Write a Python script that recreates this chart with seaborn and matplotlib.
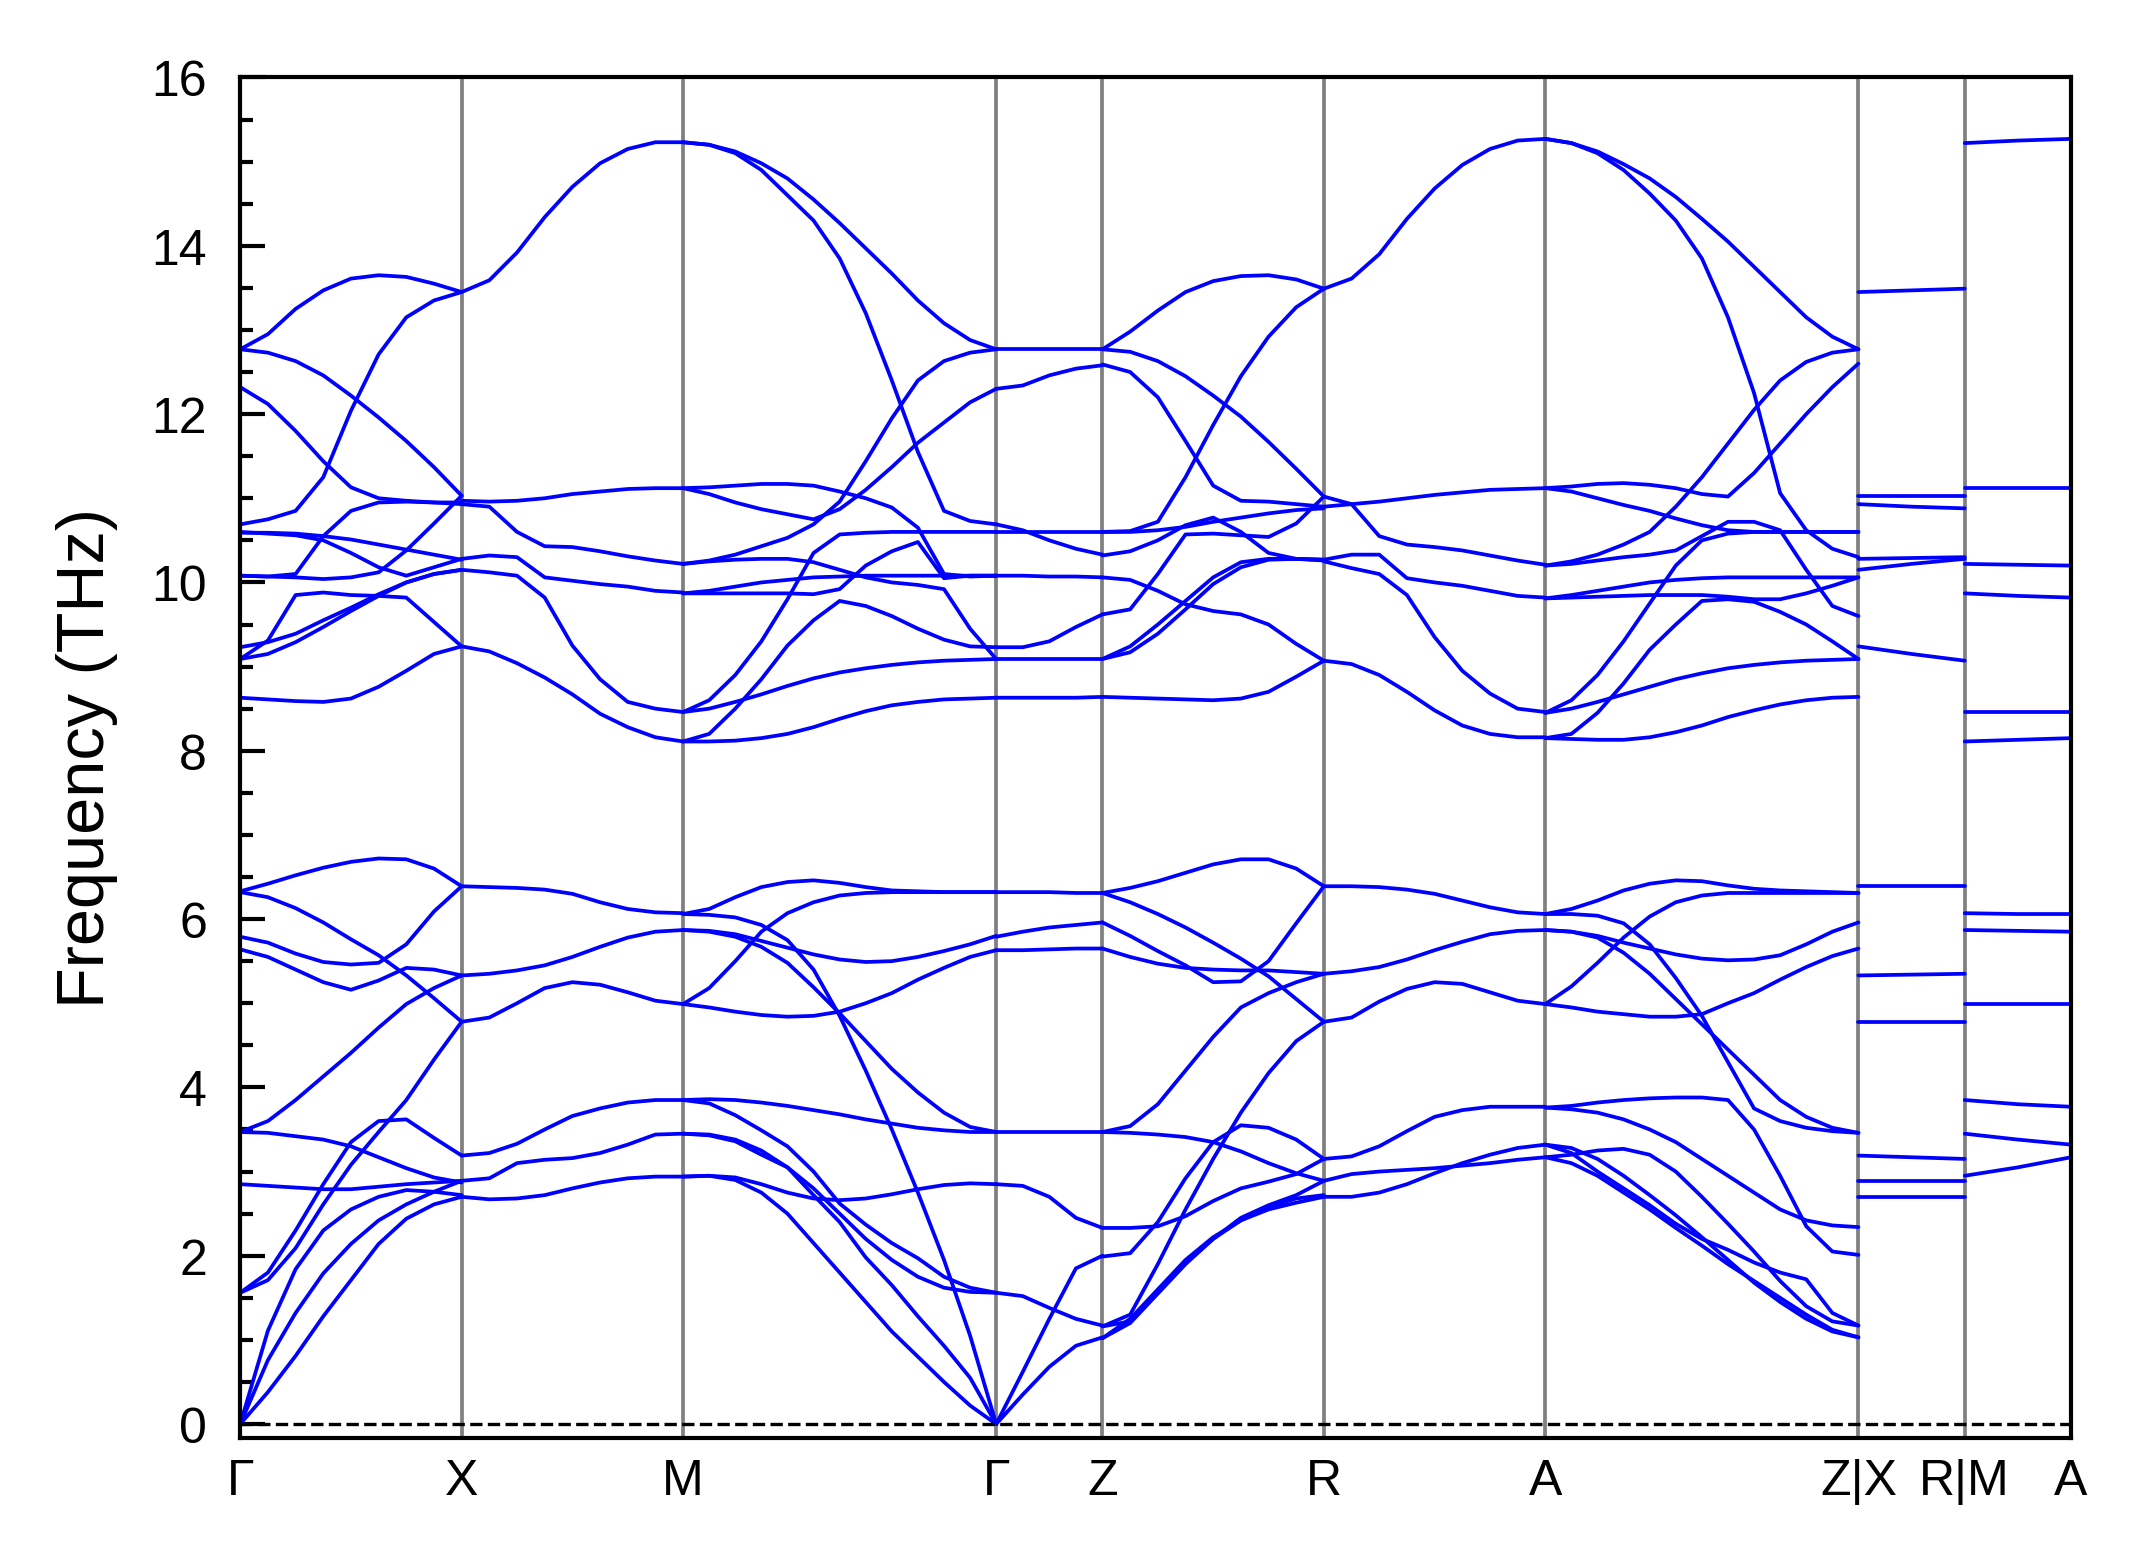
import matplotlib
matplotlib.use("Agg")
import matplotlib.pyplot as plt
import numpy as np
import pandas as pd
import seaborn as sns

sns.set_style("ticks")
plt.rcParams["font.family"] = ["Liberation Sans", "DejaVu Sans"]
for key in ["text.color", "axes.labelcolor", "xtick.color", "ytick.color", "axes.edgecolor"]:
    plt.rcParams[key] = "black"

# high-symmetry points and their path distances
labels = ["Γ", "X", "M", "Γ", "Z", "R", "A", "Z|X", "R|M", "A"]
ticks = [0.0, 0.5, 1.0, 1.707, 1.947, 2.447, 2.947, 3.654, 3.894, 4.134]

# branch frequencies (THz) read at evenly spaced k-points along each segment
seg_GX = [
    [12.77, 12.95, 13.25, 13.47, 13.61, 13.65, 13.63, 13.55, 13.45],
    [12.77, 12.73, 12.63, 12.46, 12.22, 11.96, 11.68, 11.37, 11.03],
    [12.32, 12.12, 11.80, 11.44, 11.13, 11.00, 10.97, 10.95, 10.95],
    [10.69, 10.75, 10.85, 11.25, 12.04, 12.71, 13.15, 13.35, 13.45],
    [10.59, 10.59, 10.58, 10.55, 10.51, 10.45, 10.39, 10.33, 10.27],
    [10.08, 10.07, 10.10, 10.55, 10.85, 10.95, 10.96, 10.95, 10.93],
    [10.08, 10.07, 10.06, 10.04, 10.06, 10.12, 10.38, 10.70, 11.03],
    [10.60, 10.58, 10.56, 10.50, 10.35, 10.18, 10.08, 10.18, 10.28],
    [9.23, 9.29, 9.39, 9.55, 9.70, 9.86, 10.00, 10.10, 10.15],
    [9.09, 9.15, 9.29, 9.47, 9.66, 9.84, 10.00, 10.10, 10.15],
    [9.09, 9.31, 9.85, 9.88, 9.85, 9.84, 9.82, 9.53, 9.24],
    [8.63, 8.61, 8.59, 8.58, 8.62, 8.76, 8.95, 9.15, 9.24],
    [6.33, 6.42, 6.52, 6.61, 6.68, 6.72, 6.71, 6.60, 6.39],
    [6.32, 6.26, 6.13, 5.96, 5.76, 5.57, 5.33, 5.06, 4.78],
    [5.79, 5.72, 5.59, 5.49, 5.46, 5.48, 5.70, 6.09, 6.39],
    [5.64, 5.55, 5.40, 5.25, 5.16, 5.27, 5.42, 5.40, 5.33],
    [3.47, 3.60, 3.85, 4.13, 4.41, 4.71, 4.99, 5.18, 5.33],
    [3.47, 3.46, 3.42, 3.38, 3.30, 3.17, 3.04, 2.93, 2.87],
    [1.56, 1.80, 2.30, 2.85, 3.35, 3.60, 3.62, 3.40, 3.19],
    [1.56, 1.71, 2.09, 2.61, 3.08, 3.47, 3.85, 4.33, 4.78],
    [2.85, 2.83, 2.81, 2.79, 2.79, 2.82, 2.85, 2.87, 2.89],
    [0.00, 0.38, 0.81, 1.28, 1.71, 2.14, 2.44, 2.61, 2.70],
    [0.00, 0.76, 1.32, 1.79, 2.14, 2.42, 2.61, 2.76, 2.89],
    [0.00, 1.11, 1.84, 2.30, 2.55, 2.70, 2.78, 2.76, 2.72],
]
seg_XM = [
    [13.45, 13.59, 13.92, 14.34, 14.70, 14.98, 15.15, 15.23, 15.23],
    [10.97, 10.96, 10.97, 11.00, 11.05, 11.08, 11.11, 11.12, 11.12],
    [10.93, 10.90, 10.60, 10.43, 10.42, 10.37, 10.31, 10.26, 10.22],
    [10.28, 10.32, 10.30, 10.06, 10.02, 9.98, 9.95, 9.90, 9.88],
    [10.15, 10.12, 10.08, 9.82, 9.25, 8.85, 8.58, 8.50, 8.46],
    [9.24, 9.18, 9.04, 8.87, 8.67, 8.44, 8.28, 8.16, 8.11],
    [6.39, 6.38, 6.37, 6.35, 6.30, 6.20, 6.12, 6.08, 6.07],
    [5.33, 5.35, 5.39, 5.45, 5.55, 5.67, 5.78, 5.85, 5.87],
    [4.78, 4.83, 5.00, 5.18, 5.25, 5.22, 5.13, 5.03, 4.99],
    [3.19, 3.22, 3.33, 3.50, 3.66, 3.75, 3.82, 3.85, 3.85],
    [2.89, 2.92, 3.10, 3.14, 3.16, 3.22, 3.32, 3.44, 3.45],
    [2.70, 2.67, 2.68, 2.72, 2.80, 2.87, 2.92, 2.94, 2.94],
]
seg_MG = [
    [15.23, 15.20, 15.10, 14.90, 14.60, 14.30, 13.85, 13.20, 12.40, 11.55, 10.85, 10.73, 10.69],
    [15.23, 15.20, 15.12, 14.98, 14.80, 14.55, 14.27, 13.97, 13.67, 13.35, 13.08, 12.88, 12.77],
    [10.22, 10.26, 10.33, 10.43, 10.53, 10.69, 10.96, 11.44, 11.95, 12.40, 12.63, 12.73, 12.77],
    [11.12, 11.05, 10.95, 10.87, 10.81, 10.75, 10.87, 11.10, 11.37, 11.66, 11.90, 12.14, 12.30],
    [11.12, 11.13, 11.15, 11.17, 11.17, 11.15, 11.08, 11.00, 10.89, 10.65, 10.10, 10.07, 10.08],
    [9.87, 9.87, 9.87, 9.87, 9.87, 9.86, 9.92, 10.20, 10.37, 10.48, 10.05, 10.08, 10.08],
    [9.87, 9.90, 9.95, 10.00, 10.03, 10.06, 10.07, 10.08, 10.08, 10.08, 10.08, 10.08, 10.08],
    [8.46, 8.60, 8.90, 9.30, 9.80, 10.35, 10.57, 10.59, 10.60, 10.60, 10.60, 10.60, 10.60],
    [8.11, 8.20, 8.50, 8.85, 9.25, 9.55, 9.78, 9.72, 9.60, 9.45, 9.32, 9.24, 9.23],
    [8.46, 8.50, 8.58, 8.67, 8.77, 8.86, 8.93, 8.98, 9.02, 9.05, 9.07, 9.08, 9.09],
    [8.11, 8.11, 8.12, 8.15, 8.20, 8.28, 8.38, 8.47, 8.54, 8.58, 8.61, 8.62, 8.63],
    [10.22, 10.25, 10.27, 10.28, 10.28, 10.24, 10.15, 10.06, 10.00, 9.97, 9.92, 9.45, 9.09],
    [6.06, 6.12, 6.26, 6.38, 6.44, 6.46, 6.43, 6.38, 6.34, 6.33, 6.32, 6.32, 6.32],
    [4.99, 5.18, 5.50, 5.85, 6.07, 6.20, 6.28, 6.31, 6.32, 6.32, 6.32, 6.32, 6.32],
    [5.87, 5.86, 5.82, 5.74, 5.66, 5.58, 5.52, 5.49, 5.50, 5.55, 5.62, 5.70, 5.80],
    [4.99, 4.95, 4.90, 4.86, 4.84, 4.85, 4.90, 5.00, 5.12, 5.28, 5.42, 5.55, 5.63],
    [6.06, 6.05, 6.02, 5.93, 5.75, 5.40, 4.85, 4.20, 3.50, 2.75, 1.95, 1.05, 0.00],
    [5.87, 5.85, 5.79, 5.67, 5.48, 5.19, 4.88, 4.55, 4.22, 3.94, 3.70, 3.53, 3.47],
    [3.85, 3.86, 3.85, 3.82, 3.78, 3.73, 3.68, 3.62, 3.57, 3.52, 3.49, 3.47, 3.47],
    [3.85, 3.81, 3.67, 3.49, 3.30, 3.00, 2.62, 2.37, 2.15, 1.97, 1.75, 1.62, 1.56],
    [3.45, 3.44, 3.38, 3.25, 3.05, 2.80, 2.50, 2.20, 1.95, 1.75, 1.62, 1.57, 1.56],
    [3.45, 3.43, 3.36, 3.20, 3.05, 2.72, 2.40, 1.98, 1.65, 1.28, 0.93, 0.55, 0.00],
    [2.94, 2.95, 2.90, 2.75, 2.50, 2.15, 1.80, 1.45, 1.10, 0.80, 0.50, 0.22, 0.00],
    [2.94, 2.95, 2.93, 2.85, 2.75, 2.68, 2.66, 2.68, 2.73, 2.79, 2.84, 2.86, 2.85],
]
seg_GZ = [
    [12.77, 12.77, 12.77, 12.77, 12.77],
    [12.30, 12.34, 12.46, 12.54, 12.58],
    [10.69, 10.62, 10.50, 10.40, 10.33],
    [10.60, 10.60, 10.60, 10.60, 10.60],
    [10.08, 10.08, 10.07, 10.07, 10.06],
    [9.23, 9.23, 9.30, 9.47, 9.62],
    [9.09, 9.09, 9.09, 9.09, 9.09],
    [8.63, 8.63, 8.63, 8.63, 8.64],
    [6.32, 6.32, 6.32, 6.31, 6.31],
    [5.79, 5.85, 5.90, 5.93, 5.96],
    [5.63, 5.63, 5.64, 5.65, 5.65],
    [3.47, 3.47, 3.47, 3.47, 3.47],
    [2.85, 2.83, 2.70, 2.45, 2.33],
    [1.56, 1.52, 1.38, 1.25, 1.17],
    [0.00, 0.62, 1.25, 1.85, 2.00],
    [0.00, 0.35, 0.68, 0.93, 1.03],
]
seg_ZR = [
    [12.77, 12.98, 13.23, 13.45, 13.58, 13.64, 13.65, 13.60, 13.49],
    [12.77, 12.74, 12.63, 12.45, 12.22, 11.97, 11.67, 11.35, 11.02],
    [12.59, 12.50, 12.20, 11.68, 11.15, 10.97, 10.96, 10.93, 10.90],
    [10.60, 10.61, 10.72, 11.25, 11.87, 12.45, 12.92, 13.27, 13.49],
    [10.60, 10.60, 10.62, 10.66, 10.72, 10.77, 10.82, 10.86, 10.88],
    [10.32, 10.37, 10.50, 10.68, 10.77, 10.60, 10.35, 10.28, 10.27],
    [9.62, 9.68, 10.10, 10.57, 10.58, 10.56, 10.54, 10.70, 11.02],
    [9.09, 9.24, 9.50, 9.78, 10.06, 10.24, 10.28, 10.28, 10.27],
    [9.09, 9.17, 9.39, 9.68, 9.98, 10.18, 10.27, 10.28, 10.26],
    [10.06, 10.03, 9.90, 9.74, 9.66, 9.62, 9.50, 9.27, 9.07],
    [8.64, 8.63, 8.62, 8.61, 8.60, 8.62, 8.70, 8.88, 9.07],
    [6.31, 6.37, 6.45, 6.55, 6.65, 6.71, 6.71, 6.60, 6.39],
    [6.31, 6.20, 6.06, 5.90, 5.72, 5.53, 5.32, 5.05, 4.78],
    [5.96, 5.80, 5.62, 5.45, 5.25, 5.26, 5.50, 5.95, 6.39],
    [5.65, 5.55, 5.47, 5.42, 5.40, 5.39, 5.39, 5.37, 5.35],
    [3.47, 3.54, 3.80, 4.20, 4.60, 4.95, 5.12, 5.25, 5.35],
    [3.47, 3.46, 3.44, 3.41, 3.35, 3.24, 3.10, 2.98, 2.89],
    [2.33, 2.33, 2.35, 2.47, 2.65, 2.80, 2.88, 2.97, 3.15],
    [1.99, 2.03, 2.40, 2.92, 3.35, 3.55, 3.52, 3.38, 3.15],
    [1.16, 1.30, 1.90, 2.55, 3.15, 3.70, 4.17, 4.55, 4.78],
    [1.02, 1.20, 1.55, 1.90, 2.20, 2.45, 2.60, 2.72, 2.89],
    [1.02, 1.25, 1.60, 1.95, 2.22, 2.42, 2.55, 2.63, 2.70],
    [1.16, 1.22, 1.58, 1.92, 2.20, 2.42, 2.58, 2.68, 2.72],
]
seg_RA = [
    [13.49, 13.61, 13.90, 14.32, 14.68, 14.96, 15.15, 15.25, 15.27],
    [10.90, 10.93, 10.96, 11.00, 11.04, 11.07, 11.10, 11.11, 11.12],
    [11.02, 10.93, 10.55, 10.45, 10.42, 10.38, 10.32, 10.26, 10.21],
    [10.27, 10.33, 10.33, 10.05, 10.00, 9.96, 9.90, 9.84, 9.82],
    [10.25, 10.17, 10.10, 9.85, 9.35, 8.95, 8.68, 8.50, 8.46],
    [9.07, 9.03, 8.90, 8.70, 8.48, 8.30, 8.20, 8.16, 8.16],
    [6.39, 6.39, 6.38, 6.35, 6.30, 6.22, 6.14, 6.08, 6.06],
    [5.35, 5.38, 5.43, 5.52, 5.63, 5.73, 5.82, 5.86, 5.87],
    [4.78, 4.83, 5.02, 5.17, 5.25, 5.23, 5.13, 5.03, 4.99],
    [3.15, 3.18, 3.30, 3.48, 3.65, 3.73, 3.77, 3.77, 3.77],
    [2.89, 2.97, 3.00, 3.02, 3.04, 3.07, 3.10, 3.14, 3.17],
    [2.70, 2.70, 2.75, 2.85, 2.98, 3.10, 3.20, 3.28, 3.32],
]
seg_AZ = [
    [15.27, 15.22, 15.12, 14.97, 14.80, 14.58, 14.32, 14.05, 13.75, 13.45, 13.15, 12.92, 12.77],
    [15.27, 15.22, 15.10, 14.90, 14.62, 14.30, 13.85, 13.15, 12.25, 11.06, 10.62, 10.40, 10.30],
    [10.20, 10.25, 10.33, 10.45, 10.60, 10.90, 11.25, 11.65, 12.05, 12.40, 12.62, 12.73, 12.77],
    [11.12, 11.14, 11.17, 11.18, 11.16, 11.12, 11.05, 11.02, 11.30, 11.65, 12.00, 12.32, 12.60],
    [11.12, 11.08, 11.00, 10.92, 10.85, 10.76, 10.68, 10.62, 10.60, 10.60, 10.60, 10.60, 10.60],
    [10.20, 10.22, 10.26, 10.30, 10.33, 10.38, 10.55, 10.72, 10.72, 10.62, 10.15, 9.72, 9.60],
    [9.81, 9.82, 9.83, 9.84, 9.85, 9.85, 9.85, 9.83, 9.80, 9.80, 9.87, 9.96, 10.06],
    [9.81, 9.85, 9.90, 9.95, 10.00, 10.03, 10.05, 10.06, 10.06, 10.06, 10.06, 10.06, 10.06],
    [8.45, 8.60, 8.90, 9.30, 9.75, 10.20, 10.50, 10.58, 10.60, 10.60, 10.60, 10.60, 10.60],
    [8.15, 8.20, 8.45, 8.80, 9.20, 9.50, 9.78, 9.80, 9.77, 9.65, 9.50, 9.30, 9.09],
    [8.45, 8.50, 8.58, 8.67, 8.76, 8.85, 8.92, 8.98, 9.02, 9.05, 9.07, 9.08, 9.09],
    [8.15, 8.14, 8.13, 8.13, 8.16, 8.22, 8.30, 8.40, 8.48, 8.55, 8.60, 8.63, 8.64],
    [6.06, 6.12, 6.22, 6.34, 6.42, 6.46, 6.45, 6.40, 6.36, 6.34, 6.33, 6.32, 6.31],
    [4.99, 5.20, 5.48, 5.78, 6.03, 6.20, 6.28, 6.31, 6.31, 6.31, 6.31, 6.31, 6.31],
    [5.87, 5.85, 5.80, 5.72, 5.65, 5.58, 5.53, 5.51, 5.52, 5.57, 5.70, 5.85, 5.96],
    [4.99, 4.95, 4.90, 4.87, 4.84, 4.84, 4.87, 5.00, 5.12, 5.28, 5.43, 5.56, 5.65],
    [6.06, 6.06, 6.04, 5.95, 5.70, 5.30, 4.85, 4.30, 3.75, 3.60, 3.52, 3.48, 3.46],
    [5.87, 5.85, 5.78, 5.60, 5.35, 5.05, 4.75, 4.45, 4.15, 3.85, 3.65, 3.52, 3.46],
    [3.76, 3.78, 3.82, 3.85, 3.87, 3.88, 3.88, 3.85, 3.50, 2.95, 2.35, 2.05, 2.01],
    [3.76, 3.74, 3.70, 3.62, 3.50, 3.35, 3.15, 2.95, 2.75, 2.55, 2.42, 2.36, 2.34],
    [3.17, 3.20, 3.25, 3.27, 3.20, 3.00, 2.70, 2.38, 2.05, 1.70, 1.40, 1.22, 1.17],
    [3.32, 3.22, 3.00, 2.80, 2.60, 2.38, 2.20, 2.07, 1.92, 1.80, 1.72, 1.32, 1.17],
    [3.17, 3.10, 2.95, 2.75, 2.55, 2.33, 2.12, 1.90, 1.70, 1.50, 1.30, 1.12, 1.03],
    [3.32, 3.28, 3.15, 2.95, 2.72, 2.48, 2.22, 1.95, 1.68, 1.45, 1.25, 1.10, 1.03],
]
seg_XR = [
    [13.45, 13.47, 13.49], [11.03, 11.03, 11.03], [10.93, 10.90, 10.88],
    [10.28, 10.29, 10.30], [10.15, 10.22, 10.28], [9.24, 9.15, 9.07],
    [6.39, 6.39, 6.39], [5.33, 5.34, 5.35], [4.78, 4.78, 4.78],
    [3.19, 3.17, 3.15], [2.89, 2.89, 2.89], [2.70, 2.70, 2.70],
]
seg_MA = [
    [15.22, 15.25, 15.27], [11.12, 11.12, 11.12], [10.22, 10.21, 10.20],
    [9.87, 9.84, 9.82], [8.46, 8.46, 8.46], [8.11, 8.13, 8.15],
    [6.07, 6.06, 6.06], [5.87, 5.86, 5.85], [4.99, 4.99, 4.99],
    [3.85, 3.80, 3.77], [3.45, 3.38, 3.32], [2.95, 3.05, 3.17],
]

segments = [seg_GX, seg_XM, seg_MG, seg_GZ, seg_ZR, seg_RA, seg_AZ, seg_XR, seg_MA]

# long-form table: one unit per (segment, branch)
rows = []
for s, branches in enumerate(segments):
    for b, freqs in enumerate(branches):
        k = np.linspace(ticks[s], ticks[s + 1], len(freqs))
        for kk, f in zip(k, freqs):
            rows.append((f"{s}-{b}", kk, f))
df = pd.DataFrame(rows, columns=["branch", "k", "freq"])

fig, ax = plt.subplots(figsize=(7.15, 5.223), dpi=300)

sns.lineplot(data=df, x="k", y="freq", units="branch", estimator=None, sort=False,
             color="blue", linewidth=0.9, ax=ax, legend=False)

for t in ticks[1:-1]:
    ax.axvline(t, color="gray", linewidth=0.9, zorder=0)
ax.axhline(0, color="black", linestyle="--", linewidth=0.8)

ax.set_xlim(ticks[0], ticks[-1])
ax.set_ylim(-0.16, 16)
ax.set_xticks(ticks)
ax.set_xticklabels(labels, fontsize=12)
ax.set_yticks(np.arange(0, 17, 2))
ax.set_yticks(np.arange(0, 16.1, 0.5), minor=True)
ax.tick_params(axis="y", which="major", direction="in", length=6, width=1.0,
               labelsize=12, pad=8)
ax.tick_params(axis="y", which="minor", direction="in", length=3, width=1.0)
ax.tick_params(axis="x", length=0, labelsize=12, pad=5)
ax.set_xlabel("")
ax.set_ylabel("Frequency (THz)", fontsize=16, labelpad=8)
for s in ax.spines.values():
    s.set_linewidth(1.0)

fig.subplots_adjust(left=0.112, right=0.9655, top=0.95, bottom=0.082)
fig.savefig("out.png", dpi=300)
